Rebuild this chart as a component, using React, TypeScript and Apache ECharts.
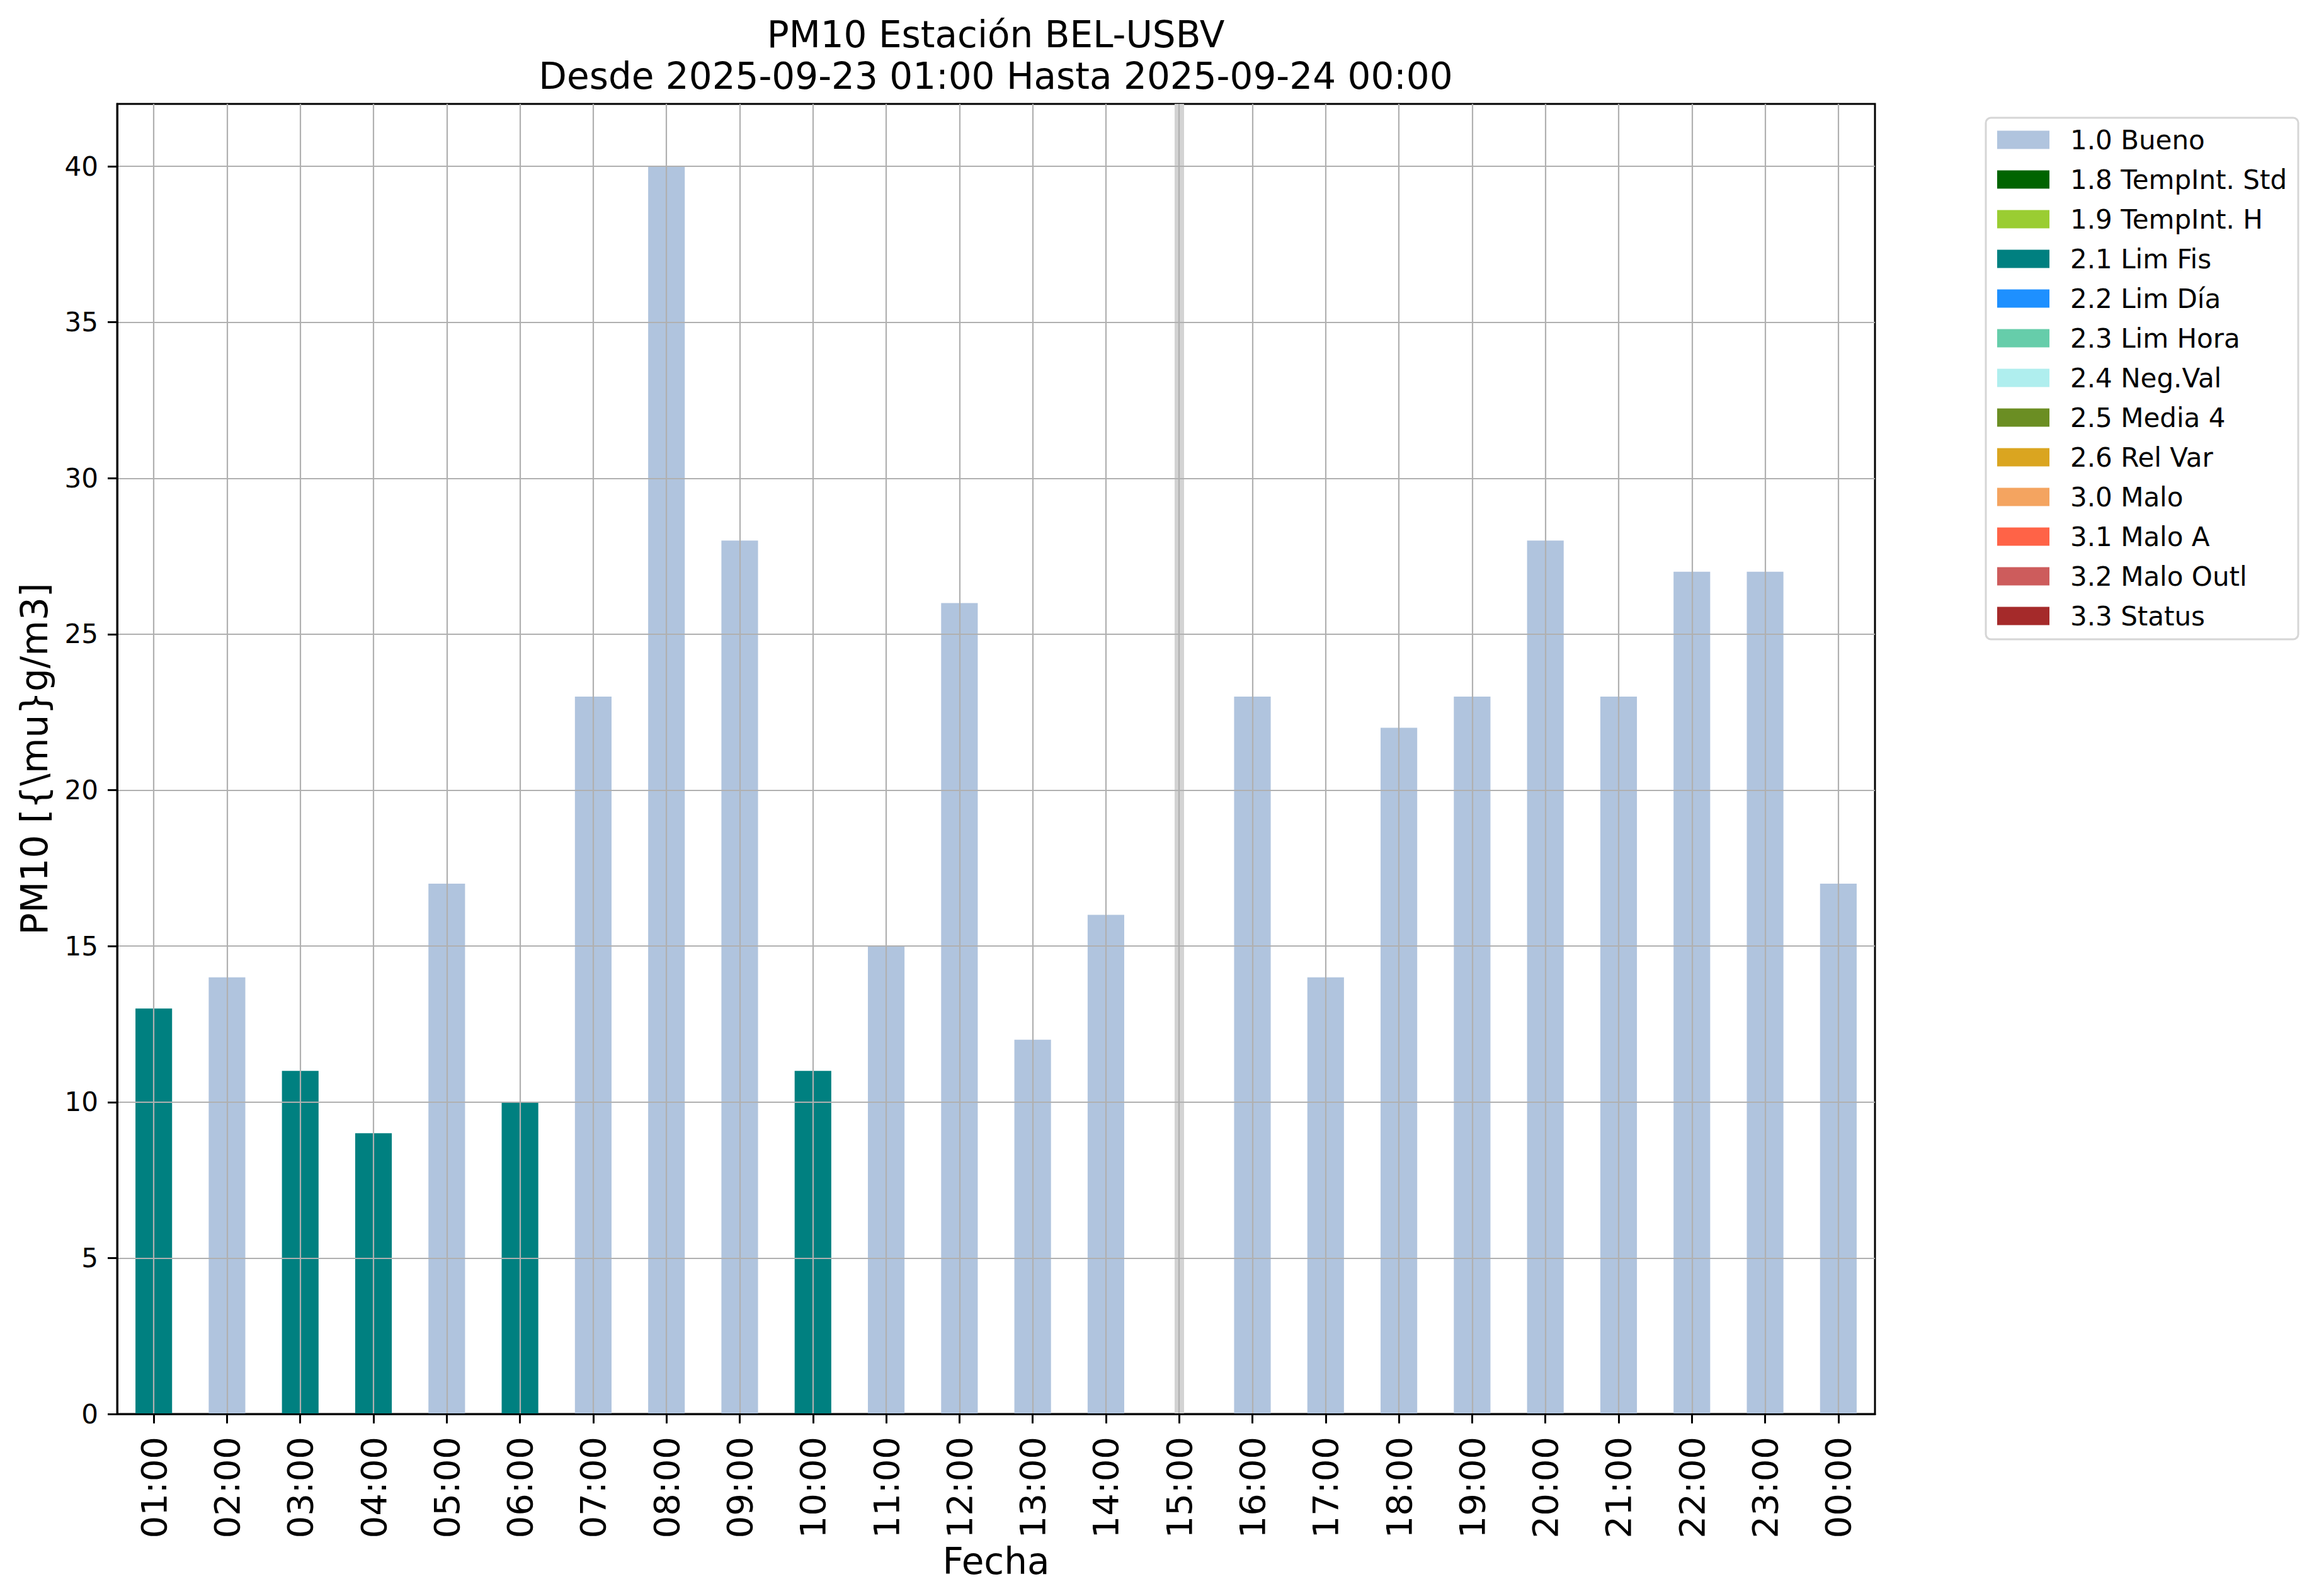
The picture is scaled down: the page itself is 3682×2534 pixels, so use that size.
import React, { useEffect, useRef } from "react";
import * as echarts from "echarts";

const hours = ["01:00","02:00","03:00","04:00","05:00","06:00","07:00","08:00","09:00","10:00","11:00","12:00","13:00","14:00","15:00","16:00","17:00","18:00","19:00","20:00","21:00","22:00","23:00","00:00"];
const values: (number | null)[] = [13,14,11,9,17,10,23,40,28,11,15,26,12,16,null,23,14,22,23,28,23,27,27,17];
const flags: (string | null)[] = ["2.1 Lim Fis","1.0 Bueno","2.1 Lim Fis","2.1 Lim Fis","1.0 Bueno","2.1 Lim Fis","1.0 Bueno","1.0 Bueno","1.0 Bueno","2.1 Lim Fis","1.0 Bueno","1.0 Bueno","1.0 Bueno","1.0 Bueno",null,"1.0 Bueno","1.0 Bueno","1.0 Bueno","1.0 Bueno","1.0 Bueno","1.0 Bueno","1.0 Bueno","1.0 Bueno","1.0 Bueno"];
const missingHours = ["15:00"];
const flagNames = ["1.0 Bueno","1.8 TempInt. Std","1.9 TempInt. H","2.1 Lim Fis","2.2 Lim Día","2.3 Lim Hora","2.4 Neg.Val","2.5 Media 4","2.6 Rel Var","3.0 Malo","3.1 Malo A","3.2 Malo Outl","3.3 Status"];
const flagColors = ["#b0c4de","#006400","#9acd32","#008080","#1e90ff","#66cdaa","#afeeee","#6b8e23","#daa520","#f4a460","#ff6347","#cd5c5c","#a52a2a"];
const yTicks = [0,5,10,15,20,25,30,35,40];

const FONT = "DejaVu Sans";
const GRID_COLOR = "#b0b0b0";

export default function App() {
  const ref = useRef<HTMLDivElement>(null);
  useEffect(() => {
    if (!ref.current) return;
    const chart = echarts.init(ref.current, undefined, { renderer: "svg" });
    const series: any[] = flagNames.map((name, i) => ({
      name,
      type: "bar",
      stack: "total",
      barWidth: "50%",
      z: 1,
      itemStyle: { color: flagColors[i] },
      data: hours.map((_, k) => (flags[k] === name ? values[k] : null)),
      markLine: i === 0 ? {
        silent: true,
        z: 3,
        symbol: ["none", "none"],
        label: { show: false },
        lineStyle: { color: "#d3d3d3", width: 15, type: "solid" },
        data: missingHours.map((h) => ({ xAxis: h })),
      } : undefined,
    }));
    series.push({
      name: "__grid",
      type: "line",
      z: 5,
      data: hours.map(() => null),
      showSymbol: false,
      silent: true,
      markLine: {
        silent: true,
        z: 5,
        symbol: ["none", "none"],
        label: { show: false },
        lineStyle: { color: GRID_COLOR, width: 2.2, type: "solid" },
        data: [
          ...hours.map((h) => ({ xAxis: h })),
          ...yTicks.filter((v) => v > 0).map((v) => ({ yAxis: v })),
        ],
      },
    });
    chart.setOption({
      animation: false,
      backgroundColor: "#ffffff",
      textStyle: { fontFamily: FONT },
      title: {
        text: "PM10 Estación BEL-USBV\nDesde 2025-09-23 01:00 Hasta 2025-09-24 00:00",
        left: 1581,
        top: 22,
        textAlign: "center",
        padding: 0,
        textStyle: { fontFamily: FONT, fontSize: 58, fontWeight: "normal", color: "#000", lineHeight: 66 },
      },
      legend: {
        orient: "vertical",
        left: 3153,
        top: 187,
        data: flagNames,
        icon: "rect",
        itemWidth: 83,
        itemHeight: 29,
        itemGap: 21,
        padding: [14, 18, 16, 18],
        borderColor: "#d6d6d6",
        borderWidth: 3,
        borderRadius: 8,
        backgroundColor: "#ffffff",
        textStyle: { fontFamily: FONT, fontSize: 42, color: "#000", lineHeight: 42, padding: [0, 0, 0, 28] },
        selectedMode: false,
      },
      grid: {
        left: 186,
        top: 165,
        right: 705,
        bottom: 289,
        show: true,
        borderColor: "#000",
        borderWidth: 3,
        containLabel: false,
      },
      xAxis: {
        type: "category",
        data: hours,
        z: 7,
        name: "Fecha",
        nameLocation: "middle",
        nameGap: 196,
        nameTextStyle: { fontFamily: FONT, fontSize: 58, color: "#000" },
        axisLine: { show: true, lineStyle: { color: "#000", width: 3 } },
        axisTick: { show: true, alignWithLabel: true, length: 15, lineStyle: { color: "#000", width: 3 } },
        axisLabel: { rotate: 90, fontFamily: FONT, fontSize: 56, color: "#000", margin: 36, interval: 0 },
        splitLine: { show: false },
      },
      yAxis: {
        type: "value",
        min: 0,
        max: 42,
        interval: 5,
        z: 7,
        name: "PM10 [{\\mu}g/m3]",
        nameLocation: "middle",
        nameGap: 102,
        nameTextStyle: { fontFamily: FONT, fontSize: 58, color: "#000" },
        axisLine: { show: true, lineStyle: { color: "#000", width: 3 } },
        axisTick: { show: true, length: 15, customValues: yTicks, lineStyle: { color: "#000", width: 3 } },
        axisLabel: {
          fontFamily: FONT, fontSize: 42, color: "#000", margin: 30,
          customValues: yTicks,
          formatter: (v: number) => (yTicks.includes(v) ? String(v) : ""),
        },
        splitLine: { show: false },
      },
      series,
    });
    return () => chart.dispose();
  }, []);
  return <div ref={ref} style={{ position: "fixed", left: 0, top: 0, width: 3682, height: 2534 }} />;
}
